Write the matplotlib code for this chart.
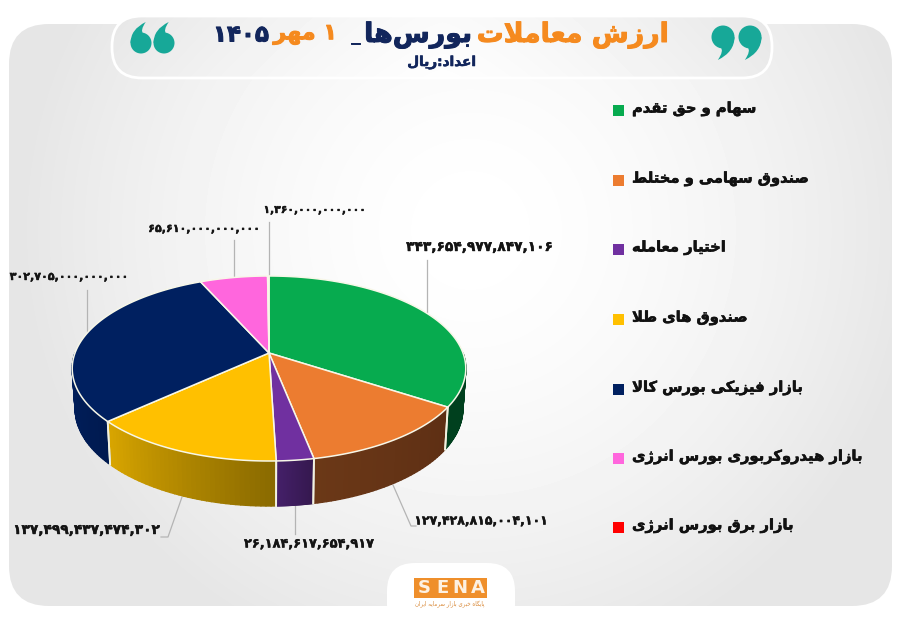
import matplotlib
matplotlib.use('Agg')
import matplotlib.pyplot as plt
import matplotlib.patheffects as pe
from matplotlib.collections import PolyCollection
from matplotlib.colors import to_rgb
from matplotlib.patches import Circle, FancyBboxPatch, PathPatch, Polygon, Rectangle
from matplotlib.path import Path
import numpy as np

# Data
categories = ['سهام و حق تقدم', 'صندوق سهامی و مختلط', 'اختیار معامله', 'صندوق های طلا',
              'بازار فیزیکی بورس کالا', 'بازار هیدروکربوری بورس انرژی', 'بازار برق بورس انرژی']
values = [343654977847106, 127428815004101, 26184617654917, 137499437474302,
          302705000000000, 65610000000000, 1360000000000]
value_labels = ['۳۴۳,۶۵۴,۹۷۷,۸۴۷,۱۰۶', '۱۲۷,۴۲۸,۸۱۵,۰۰۴,۱۰۱', '۲۶,۱۸۴,۶۱۷,۶۵۴,۹۱۷',
                '۱۳۷,۴۹۹,۴۳۷,۴۷۴,۳۰۲', '۳۰۲,۷۰۵,۰۰۰,۰۰۰,۰۰۰', '۶۵,۶۱۰,۰۰۰,۰۰۰,۰۰۰',
                '۱,۳۶۰,۰۰۰,۰۰۰,۰۰۰']
colors = ['#07ab4f', '#ec7c30', '#7030a0', '#ffc000', '#002060', '#ff66dd', '#ff0000']
wall_left = ['#00401e', '#6b3817', '#45206a', '#d9a600', '#002060', '#ff66dd', '#ff0000']
wall_right = ['#00401e', '#5e2f14', '#35184f', '#8a6a00', '#001a50', '#ff66dd', '#ff0000']

NAVY = '#12265c'
ORANGE = '#f58a1f'
TEAL = '#17a898'

# presentation forms: isolated, final, initial, medial
FORMS = {
    'ا': (0xFE8D, 0xFE8E), 'د': (0xFEA9, 0xFEAA), 'ر': (0xFEAD, 0xFEAE), 'ز': (0xFEAF, 0xFEB0),
    'ژ': (0xFB8A, 0xFB8B), 'و': (0xFEED, 0xFEEE),
    'ب': (0xFE8F, 0xFE90, 0xFE91, 0xFE92), 'پ': (0xFB56, 0xFB57, 0xFB58, 0xFB59),
    'ت': (0xFE95, 0xFE96, 0xFE97, 0xFE98), 'ح': (0xFEA1, 0xFEA2, 0xFEA3, 0xFEA4),
    'خ': (0xFEA5, 0xFEA6, 0xFEA7, 0xFEA8), 'س': (0xFEB1, 0xFEB2, 0xFEB3, 0xFEB4),
    'ش': (0xFEB5, 0xFEB6, 0xFEB7, 0xFEB8), 'ص': (0xFEB9, 0xFEBA, 0xFEBB, 0xFEBC),
    'ط': (0xFEC1, 0xFEC2, 0xFEC3, 0xFEC4), 'ع': (0xFEC9, 0xFECA, 0xFECB, 0xFECC),
    'ف': (0xFED1, 0xFED2, 0xFED3, 0xFED4), 'ق': (0xFED5, 0xFED6, 0xFED7, 0xFED8),
    'ک': (0xFB8E, 0xFB8F, 0xFB90, 0xFB91), 'گ': (0xFB92, 0xFB93, 0xFB94, 0xFB95),
    'ل': (0xFEDD, 0xFEDE, 0xFEDF, 0xFEE0), 'م': (0xFEE1, 0xFEE2, 0xFEE3, 0xFEE4),
    'ن': (0xFEE5, 0xFEE6, 0xFEE7, 0xFEE8), 'ه': (0xFEE9, 0xFEEA, 0xFEEB, 0xFEEC),
    'ی': (0xFBFC, 0xFBFD, 0xFBFE, 0xFBFF),
}


def shape(text):
    # matplotlib has no arabic shaping, so pick the joined glyphs by hand and reverse
    out = []
    i = 0
    while i < len(text):
        ch = text[i]
        if ch not in FORMS:
            out.append(ch)
            i += 1
            continue
        prev_joins = i > 0 and text[i - 1] in FORMS and len(FORMS[text[i - 1]]) == 4
        if ch == 'ل' and i + 1 < len(text) and text[i + 1] == 'ا':
            out.append(chr(0xFEFC if prev_joins else 0xFEFB))
            i += 2
            continue
        next_is_letter = i + 1 < len(text) and text[i + 1] in FORMS
        f = FORMS[ch]
        if len(f) == 2:
            out.append(chr(f[1] if prev_joins else f[0]))
        elif prev_joins and next_is_letter:
            out.append(chr(f[3]))
        elif prev_joins:
            out.append(chr(f[1]))
        elif next_is_letter:
            out.append(chr(f[2]))
        else:
            out.append(chr(f[0]))
        i += 1
    return ''.join(reversed(out))


def heavy(col, w=0.5):
    return [pe.withStroke(linewidth=w, foreground=col)]


def quote_mark(bx, by, r, sign):
    # blob with a curved tail, sign=1 is the closing mark, -1 the opening one
    ax.add_patch(Circle((bx, by), r, fc=TEAL, ec='none', zorder=3))
    pts = np.array([(r, 0), (r, 1.3 * r), (-0.45 * r, 2.0 * r), (0.1 * r, 1.2 * r), (-0.2 * r, 0.9 * r), (r, 0)])
    codes = [Path.MOVETO, Path.CURVE3, Path.CURVE3, Path.CURVE3, Path.CURVE3, Path.CLOSEPOLY]
    tail = Path(np.column_stack([bx + sign * pts[:, 0], by + sign * pts[:, 1]]), codes)
    ax.add_patch(PathPatch(tail, fc=TEAL, ec='none', zorder=3))


fig = plt.figure(figsize=(9, 6.23), dpi=100)
ax = fig.add_axes([0, 0, 1, 1])
ax.set_xlim(0, 900)
ax.set_ylim(623, 0)
ax.axis('off')
plt.rcParams['font.family'] = ['DejaVu Sans']

# card background
yy, xx = np.mgrid[0:623, 0:900]
d = np.sqrt(((xx - 470) / 450.0) ** 2 + ((yy - 230) / 450.0) ** 2)
shade = 1 - 0.10 * np.clip(d, 0, 1) ** 1.6
img = ax.imshow(shade, cmap='gray', vmin=0, vmax=1, extent=(0, 900, 623, 0), aspect='auto', zorder=1)
card = FancyBboxPatch((9, 24), 883, 582, boxstyle='round,pad=0,rounding_size=40',
                      fc='none', ec='none', transform=ax.transData)
ax.add_patch(card)
img.set_clip_path(card)

# title pill
pill_shade = 0.995 - 0.075 * np.abs((xx[:100] - 442) / 330.0) ** 1.3 - 0.02 * (1 - yy[:100] / 80.0)
pill_img = ax.imshow(pill_shade, cmap='gray', vmin=0, vmax=1, extent=(0, 900, 100, 0), aspect='auto', zorder=2)
pill = FancyBboxPatch((112, 16), 660, 62, boxstyle='round,pad=0,rounding_size=30',
                      fc='none', ec='white', lw=2, zorder=2.5)
ax.add_patch(pill)
pill_img.set_clip_path(pill)

quote_mark(723, 37, 11.5, 1)
quote_mark(750, 37, 11.5, 1)
quote_mark(141, 43, 10.5, -1)
quote_mark(164, 43, 10.5, -1)

title_parts = [('ارزش معاملات', 669, ORANGE, 19.3), ('بورس\u200cها', 472, NAVY, 19.3), ('_', 360, NAVY, 13),
               ('۱ مهر', 337, ORANGE, 16), ('۱۴۰۵', 269, NAVY, 16.5)]
for part, right, col, size in title_parts:
    shown = part if part == '۱۴۰۵' else shape(part)
    ax.text(right, 35, shown, fontsize=size, weight='bold', color=col, ha='right',
            va='center', zorder=3, path_effects=heavy(col, 0.7))
ax.text(476, 62, shape('اعداد:ریال'), fontsize=9.8, weight='bold', color=NAVY, ha='right',
        va='center', zorder=3, path_effects=heavy(NAVY, 0.4))

# pie, perspective projection of a circle
cx, cy = 269, 353
R, f, p = 194, 89.9, 0.1676
drop, R2, f2 = 39.6, 0.985, 1.05


def top_xy(t):
    s, c = np.sin(t), np.cos(t)
    w = 1 + p * s
    return cx + R * c / w, cy - f * s / w


def bottom_xy(t):
    s, c = np.sin(t), np.cos(t)
    w = 1 + p * s
    return cx + R * R2 * c / w, cy + drop - f * f2 * s / w


fractions = np.array(values, dtype=float) / sum(values)
edges = np.pi / 2 - 2 * np.pi * np.concatenate([[0], np.cumsum(fractions)])

# walls, only the front half of the pie shows them
for i in range(len(values)):
    hi, lo = edges[i], edges[i + 1]
    # keep the part with sin < 0
    hi2, lo2 = min(hi, 0.0), max(lo, -np.pi)
    if hi2 <= lo2:
        continue
    ts = np.linspace(lo2, hi2, 40)  # left to right
    quads, cols = [], []
    cl, cr = np.array(to_rgb(wall_left[i])), np.array(to_rgb(wall_right[i]))
    for k in range(len(ts) - 1):
        x0, y0 = top_xy(ts[k])
        x1, y1 = top_xy(ts[k + 1])
        x2, y2 = bottom_xy(ts[k + 1])
        x3, y3 = bottom_xy(ts[k])
        quads.append([(x0, y0), (x1, y1), (x2, y2), (x3, y3)])
        cols.append(cl + (cr - cl) * k / (len(ts) - 2))
    ax.add_collection(PolyCollection(quads, facecolors=cols, edgecolors=cols, linewidths=1.0, zorder=4))
    for t in (lo2, hi2):
        if -np.pi < t < 0:
            ax.plot([top_xy(t)[0], bottom_xy(t)[0]], [top_xy(t)[1], bottom_xy(t)[1]],
                    color='#f2f2e0', lw=1.3, zorder=5)

# top face
for i in range(len(values)):
    ts = np.linspace(edges[i], edges[i + 1], 120)
    x, y = top_xy(ts)
    pts = np.column_stack([np.r_[cx, x], np.r_[cy, y]])
    ax.add_patch(Polygon(pts, closed=True, fc=colors[i], ec='#f7f7e8', lw=1.1, joinstyle='round', zorder=6))

# leader lines
leader_color = '#b4b4b4'
leaders = [([427, 427], [260, 312]), ([393, 411, 416], [485, 526, 526]), ([295, 295], [506, 534]),
           ([182, 168, 161], [497, 537, 537]), ([87, 87], [290, 335]), ([234, 234], [240, 277]),
           ([269, 269], [222, 277])]
for lx, ly in leaders:
    ax.plot(lx, ly, color=leader_color, lw=0.9, zorder=3)

# value labels: centre and size, zeros are wide in this font so those labels run smaller
label_pos = [(479, 247), (481, 521), (309, 544), (86, 530), (69, 277), (204, 229), (315, 210)]
label_size = [9.9, 9.0, 9.3, 9.9, 8.0, 8.0, 7.8]
for txt, (lx, ly), size in zip(value_labels, label_pos, label_size):
    ax.text(lx, ly, txt, fontsize=size, weight='bold', color='#141414', ha='center', va='center',
            zorder=7, path_effects=heavy('#141414', 0.3))

# legend
legend_y = [110, 180, 249, 319, 389, 458, 527]
for name, col, ly in zip(categories, colors, legend_y):
    ax.add_patch(Rectangle((613, ly - 5.5), 11, 11, fc=col, ec='none', zorder=3))
    ax.text(632, ly - 1, shape(name), fontsize=10.6, weight='bold', color='#111111', ha='left',
            va='center', zorder=3, path_effects=heavy('#111111', 0.4))

# logo
tab = FancyBboxPatch((387, 563), 128, 70, boxstyle='round,pad=0,rounding_size=28',
                     fc='white', ec='none', zorder=2)
ax.add_patch(tab)
tab.set_clip_path(Rectangle((0, 0), 900, 607, transform=ax.transData))
ax.add_patch(Rectangle((414, 578), 73, 20, fc='#ef8f2b', ec='none', zorder=3))
for letter, lx in zip('SENA', [424, 442, 460, 478]):
    ax.text(lx, 588, letter, fontsize=13, weight='bold', color='#fdf1e2', ha='center', va='center', zorder=4)
ax.text(450, 604, shape('پایگاه خبری بازار سرمایه ایران'), fontsize=4, color='#d98a3a', ha='center',
        va='center', zorder=4)

fig.savefig('out.png', dpi=100)
